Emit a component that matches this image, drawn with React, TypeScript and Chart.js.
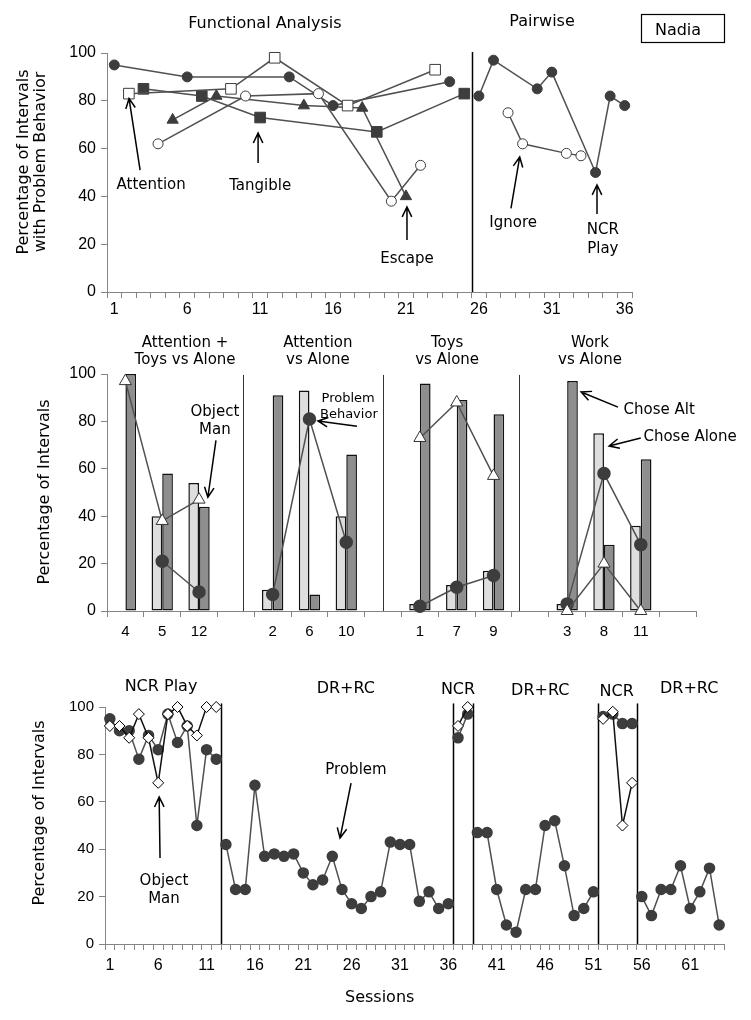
import React, { useEffect, useRef } from 'react';
import { Chart, registerables } from 'chart.js';
Chart.register(...registerables);

const TICK_FONT = "'Liberation Sans', Arial, sans-serif";
const TEXT_FONT = "'DejaVu Sans', Verdana, sans-serif";
const AXIS = '#858585';
const DARK = '#3d3d3d';
const LINE = '#505050';

// ---------------- Panel 1: Functional analysis + pairwise ----------------
const topSessionTicks = [1,2,3,4,5,6,7,8,9,10,11,12,13,14,15,16,17,18,19,20,21,22,23,24,25,26,27,28,29,30,31,32,33,34,35,36];
const topTickLabels = ['1', '6', '11', '16', '21', '26', '31', '36'];
const faPlaySessions = [1, 6, 13, 16, 24];
const faPlayValues = [95, 90, 90, 78, 88];
const faAttentionSessions = [2, 9, 12, 17, 23];
const faAttentionValues = [83, 85, 98, 78, 93];
const faTangibleSessions = [3, 7, 11, 19, 25];
const faTangibleValues = [85, 82, 73, 67, 83];
const faEscapeSessions = [5, 8, 14, 18, 21];
const faEscapeValues = [72, 82, 78, 77, 40];
const faIgnoreSessions = [4, 10, 15, 20, 22];
const faIgnoreValues = [62, 82, 83, 38, 53];
const pwPlaySessions = [26, 27, 30, 31, 34, 35, 36];
const pwPlayValues = [82, 97, 85, 92, 50, 82, 78];
const pwIgnoreSessions = [28, 29, 32, 33];
const pwIgnoreValues = [75, 62, 58, 57];
const topPhaseLines = [25.5];

// ---------------- Panel 2: choice assessment ----------------
const pairLabels = ['4', '5', '12', '', '2', '6', '10', '', '1', '7', '9', '', '3', '8', '11', ''];
const choseAloneValues = [0, 40, 54, null, 9, 93, 40, null, 3, 11, 17, null, 3, 75, 36, null];
const choseAltValues = [100, 58, 44, null, 91, 7, 66, null, 96, 89, 83, null, 97, 28, 64, null];
const pairProblemValues = [null, 21, 8, null, 7, 81, 29, null, 2, 10, 15, null, 3, 58, 28, null];
const pairObjectManValues = [97, 38, 47, null, null, null, null, null, 73, 88, 57, null, 0, 20, 0, null];
const pairDividers = [3.19, 6.99, 10.69];

// ---------------- Panel 3: treatment ----------------
const bottomSessionTicks = [1,2,3,4,5,6,7,8,9,10,11,12,13,14,15,16,17,18,19,20,21,22,23,24,25,26,27,28,29,30,31,32,33,34,35,36,37,38,39,40,41,42,43,44,45,46,47,48,49,50,51,52,53,54,55,56,57,58,59,60,61,62,63,64];
const bottomTickLabels = ['1', '6', '11', '16', '21', '26', '31', '36', '41', '46', '51', '56', '61'];
const problemValues = [
  95, 90, 90, 78, 88, 82, 97, 85, 92, 50, 82, 78,
  42, 23, 23, 67, 37, 38, 37, 38, 30, 25, 27, 37, 23, 17, 15, 20, 22, 43, 42, 42, 18, 22, 15, 17,
  87, 97,
  47, 47, 23, 8, 5, 23, 23, 50, 52, 33, 12, 15, 22,
  96, 97, 93, 93,
  20, 12, 23, 23, 33, 15, 22, 32, 8,
];
const objectManSessions = [1, 2, 3, 4, 5, 6, 7, 8, 9, 10, 11, 12, 37, 38, 52, 53, 54, 55];
const objectManValues = [92, 92, 87, 97, 87, 68, 97, 100, 92, 88, 100, 100, 92, 100, 95, 98, 50, 68];
const bottomPhaseLines = [12.5, 36.5, 38.5, 51.5, 55.5];

// ---------------- annotation plugin ----------------
type VLine = { x: number; y1: number; y2: number; color: string; width: number };
type Txt = { x: number; y: number; text: string; size: number };
type Arr = { x1: number; y1: number; x2: number; y2: number };
type RotTxt = { px: number; py: number; text: string; size: number };
type PxTxt = { px: number; py: number; text: string; size: number };
type Box = { px: number; py: number; w: number; h: number };
type Annot = { vlines?: VLine[]; texts?: Txt[]; arrows?: Arr[]; rot?: RotTxt[]; pxTexts?: PxTxt[]; boxes?: Box[] };

function annotPlugin(a: Annot) {
  return {
    id: 'annot',
    beforeDatasetsDraw(chart: any) {
      const { ctx } = chart;
      const xs = chart.scales.x;
      const ys = chart.scales.y;
      (a.vlines || []).forEach((l) => {
        ctx.save();
        ctx.strokeStyle = l.color;
        ctx.lineWidth = l.width;
        const x = Math.round(xs.getPixelForValue(l.x)) + 0.5;
        ctx.beginPath();
        ctx.moveTo(x, ys.getPixelForValue(l.y1));
        ctx.lineTo(x, ys.getPixelForValue(l.y2));
        ctx.stroke();
        ctx.restore();
      });
    },
    afterDraw(chart: any) {
      const { ctx } = chart;
      const xs = chart.scales.x;
      const ys = chart.scales.y;
      ctx.save();
      ctx.fillStyle = '#000';
      ctx.strokeStyle = '#000';
      ctx.textAlign = 'center';
      ctx.textBaseline = 'middle';
      (a.texts || []).forEach((t) => {
        ctx.font = `${t.size}px ${TEXT_FONT}`;
        ctx.fillText(t.text, xs.getPixelForValue(t.x), ys.getPixelForValue(t.y));
      });
      (a.pxTexts || []).forEach((t) => {
        ctx.font = `${t.size}px ${TEXT_FONT}`;
        ctx.fillText(t.text, t.px, t.py);
      });
      (a.arrows || []).forEach((r) => {
        const x1 = xs.getPixelForValue(r.x1);
        const y1 = ys.getPixelForValue(r.y1);
        const x2 = xs.getPixelForValue(r.x2);
        const y2 = ys.getPixelForValue(r.y2);
        const ang = Math.atan2(y2 - y1, x2 - x1);
        const hl = 11;
        const ha = Math.PI / 7;
        ctx.lineWidth = 1.5;
        ctx.beginPath();
        ctx.moveTo(x1, y1);
        ctx.lineTo(x2, y2);
        ctx.moveTo(x2 - hl * Math.cos(ang - ha), y2 - hl * Math.sin(ang - ha));
        ctx.lineTo(x2, y2);
        ctx.lineTo(x2 - hl * Math.cos(ang + ha), y2 - hl * Math.sin(ang + ha));
        ctx.stroke();
      });
      (a.rot || []).forEach((t) => {
        ctx.save();
        ctx.translate(t.px, t.py);
        ctx.rotate(-Math.PI / 2);
        ctx.font = `${t.size}px ${TEXT_FONT}`;
        ctx.fillText(t.text, 0, 0);
        ctx.restore();
      });
      (a.boxes || []).forEach((b) => {
        ctx.lineWidth = 1.2;
        ctx.strokeRect(b.px + 0.5, b.py + 0.5, b.w, b.h);
      });
      ctx.restore();
    },
  };
}

function pts(sessions: number[], values: number[]) {
  return sessions.map((s, i) => ({ x: s, y: values[i] }));
}

const filledCircle = { pointStyle: 'circle', pointRadius: 5, pointBackgroundColor: DARK, pointBorderColor: DARK, pointBorderWidth: 1 };
const openCircle = { pointStyle: 'circle', pointRadius: 5, pointBackgroundColor: '#fff', pointBorderColor: DARK, pointBorderWidth: 1 };
const openSquare = { pointStyle: 'rect', pointRadius: 7.5, pointBackgroundColor: '#fff', pointBorderColor: DARK, pointBorderWidth: 1 };
const filledSquare = { pointStyle: 'rect', pointRadius: 7.5, pointBackgroundColor: DARK, pointBorderColor: DARK, pointBorderWidth: 1 };
const filledTriangle = { pointStyle: 'triangle', pointRadius: 6.5, pointBackgroundColor: DARK, pointBorderColor: DARK, pointBorderWidth: 1 };

function lineDs(data: any, style: any, color = LINE) {
  return { type: 'line', data, borderColor: color, borderWidth: 1.5, tension: 0, clip: false, fill: false, ...style };
}

function yAxis(width: number, size: number) {
  return {
    min: 0,
    max: 100,
    ticks: { stepSize: 20, font: { family: TICK_FONT, size }, color: '#000', padding: 5 },
    grid: { drawOnChartArea: false, tickLength: 6, color: AXIS },
    border: { color: AXIS, width: 1 },
    afterFit: (s: any) => { s.width = width; },
  };
}

function sessionAxis(min: number, max: number, ticks: number[], labels: string[], height: number, size: number, pad: number) {
  return {
    type: 'linear',
    min,
    max,
    afterBuildTicks: (s: any) => { s.ticks = ticks.map((v) => ({ value: v })); },
    ticks: {
      autoSkip: false,
      maxRotation: 0,
      font: { family: TICK_FONT, size },
      color: '#000',
      padding: pad,
      callback: (v: any) => (labels.includes(String(v)) ? String(v) : ''),
    },
    grid: { offset: true, drawOnChartArea: false, tickLength: 6, color: AXIS },
    border: { color: AXIS, width: 1 },
    afterFit: (s: any) => { s.height = height; },
  };
}

function topConfig(): any {
  return {
    type: 'line',
    data: {
      datasets: [
        lineDs(pts(faAttentionSessions, faAttentionValues), openSquare),
        lineDs(pts(faIgnoreSessions, faIgnoreValues), openCircle),
        lineDs(pts(faPlaySessions, faPlayValues), filledCircle),
        lineDs(pts(faTangibleSessions, faTangibleValues), filledSquare),
        lineDs(pts(faEscapeSessions, faEscapeValues), filledTriangle),
        lineDs(pts(pwIgnoreSessions, pwIgnoreValues), openCircle),
        lineDs(pts(pwPlaySessions, pwPlayValues), filledCircle),
      ],
    },
    options: {
      responsive: false,
      animation: false,
      devicePixelRatio: 1,
      layout: { padding: { top: 53, right: 119, left: 0, bottom: 0 } },
      plugins: { legend: { display: false }, tooltip: { enabled: false } },
      scales: {
        x: sessionAxis(0.5, 36.5, topSessionTicks, topTickLabels, 38, 16, 2),
        y: yAxis(107, 16),
      },
    },
    plugins: [
      annotPlugin({
        vlines: topPhaseLines.map((x) => ({ x, y1: 100.4, y2: 0, color: '#000', width: 1.5 })),
        texts: [
          { x: 11.33, y: 112.1, text: 'Functional Analysis', size: 16 },
          { x: 30.33, y: 113, text: 'Pairwise', size: 16 },
          { x: 3.53, y: 44.8, text: 'Attention', size: 15 },
          { x: 11.0, y: 44.4, text: 'Tangible', size: 15 },
          { x: 21.07, y: 13.8, text: 'Escape', size: 15 },
          { x: 28.35, y: 28.9, text: 'Ignore', size: 15 },
          { x: 34.5, y: 25.9, text: 'NCR', size: 15 },
          { x: 34.5, y: 18.0, text: 'Play', size: 15 },
        ],
        pxTexts: [{ px: 678, py: 31, text: 'Nadia', size: 16 }],
        arrows: [
          { x1: 2.77, y1: 51, x2: 2.01, y2: 81 },
          { x1: 10.86, y1: 54, x2: 10.86, y2: 66.5 },
          { x1: 21.07, y1: 21.8, x2: 21.07, y2: 35.6 },
          { x1: 28.2, y1: 35, x2: 28.8, y2: 56.5 },
          { x1: 34.1, y1: 32.6, x2: 34.1, y2: 44.8 },
        ],
        rot: [
          { px: 24, py: 162, text: 'Percentage of Intervals', size: 16 },
          { px: 41, py: 162, text: 'with Problem Behavior', size: 16 },
        ],
        boxes: [{ px: 641, py: 14, w: 83, h: 28 }],
      }),
    ],
  };
}

function middleConfig(): any {
  return {
    type: 'bar',
    data: {
      labels: pairLabels,
      datasets: [
        { type: 'line', data: pairObjectManValues, order: 0, borderColor: LINE, borderWidth: 1.5, tension: 0, clip: false, spanGaps: false,
          pointStyle: 'triangle', pointRadius: 7, pointBackgroundColor: '#fff', pointBorderColor: '#333', pointBorderWidth: 1 },
        { type: 'line', data: pairProblemValues, order: 0, borderColor: LINE, borderWidth: 1.5, tension: 0, clip: false, spanGaps: false,
          pointStyle: 'circle', pointRadius: 6, pointBackgroundColor: DARK, pointBorderColor: DARK },
        { type: 'bar', data: choseAloneValues, order: 1, backgroundColor: '#dedede', borderColor: '#111', borderWidth: 1.5, borderSkipped: false,
          categoryPercentage: 0.58, barPercentage: 1.0 },
        { type: 'bar', data: choseAltValues, order: 1, backgroundColor: '#8e8e8e', borderColor: '#111', borderWidth: 1.5, borderSkipped: false,
          categoryPercentage: 0.58, barPercentage: 1.0 },
      ],
    },
    options: {
      responsive: false,
      animation: false,
      devicePixelRatio: 1,
      layout: { padding: { top: 44, right: 55, left: 0, bottom: 0 } },
      plugins: { legend: { display: false }, tooltip: { enabled: false } },
      scales: {
        x: {
          type: 'category',
          offset: true,
          ticks: { autoSkip: false, maxRotation: 0, font: { family: TICK_FONT, size: 15 }, color: '#000', padding: 6 },
          grid: { offset: true, drawOnChartArea: false, tickLength: 6, color: AXIS },
          border: { color: AXIS, width: 1 },
          afterFit: (s: any) => { s.height = 39; },
        },
        y: yAxis(107, 16),
      },
    },
    plugins: [
      annotPlugin({
        vlines: pairDividers.map((x) => ({ x, y1: 99.6, y2: 0, color: '#333', width: 1 })),
        texts: [
          { x: 1.62, y: 113.1, text: 'Attention +', size: 15 },
          { x: 1.62, y: 105.9, text: 'Toys vs Alone', size: 15 },
          { x: 5.23, y: 113.1, text: 'Attention', size: 15 },
          { x: 5.23, y: 105.9, text: 'vs Alone', size: 15 },
          { x: 8.74, y: 113.1, text: 'Toys', size: 15 },
          { x: 8.74, y: 105.9, text: 'vs Alone', size: 15 },
          { x: 12.62, y: 113.1, text: 'Work', size: 15 },
          { x: 12.62, y: 105.9, text: 'vs Alone', size: 15 },
          { x: 2.43, y: 84, text: 'Object', size: 15 },
          { x: 2.43, y: 76.4, text: 'Man', size: 15 },
          { x: 6.05, y: 89.5, text: 'Problem', size: 13 },
          { x: 6.07, y: 82.7, text: 'Behavior', size: 13 },
          { x: 14.5, y: 84.8, text: 'Chose Alt', size: 15 },
          { x: 15.34, y: 73.4, text: 'Chose Alone', size: 15 },
        ],
        arrows: [
          { x1: 2.46, y1: 72, x2: 2.24, y2: 48 },
          { x1: 6.29, y1: 78, x2: 5.23, y2: 80.2 },
          { x1: 13.38, y1: 86, x2: 12.38, y2: 92.4 },
          { x1: 14.0, y1: 73, x2: 13.14, y2: 69.6 },
        ],
        rot: [{ px: 45, py: 162, text: 'Percentage of Intervals', size: 16 }],
      }),
    ],
  };
}

function bottomConfig(): any {
  const bounds = [0.5, ...bottomPhaseLines, 64.5];
  const omSets: any[] = [];
  const probSets: any[] = [];
  for (let p = 0; p < bounds.length - 1; p++) {
    const lo = bounds[p];
    const hi = bounds[p + 1];
    const om = objectManSessions
      .map((s, i) => ({ x: s, y: objectManValues[i] }))
      .filter((d) => d.x > lo && d.x < hi);
    if (om.length) {
      omSets.push(lineDs(om, { pointStyle: 'rectRot', pointRadius: 5.5, pointBackgroundColor: '#fff', pointBorderColor: '#000', pointBorderWidth: 1 }, '#111'));
    }
    const pr = problemValues
      .map((v, i) => ({ x: i + 1, y: v }))
      .filter((d) => d.x > lo && d.x < hi);
    probSets.push(lineDs(pr, { pointStyle: 'circle', pointRadius: 5, pointBackgroundColor: DARK, pointBorderColor: DARK }));
  }
  return {
    type: 'line',
    data: { datasets: [...omSets, ...probSets] },
    options: {
      responsive: false,
      animation: false,
      devicePixelRatio: 1,
      layout: { padding: { top: 57, right: 27, left: 0, bottom: 0 } },
      plugins: { legend: { display: false }, tooltip: { enabled: false } },
      scales: {
        x: sessionAxis(0.5, 64.5, bottomSessionTicks, bottomTickLabels, 76, 16, 6),
        y: yAxis(105, 15),
      },
    },
    plugins: [
      annotPlugin({
        vlines: bottomPhaseLines.map((x) => ({ x, y1: 101.5, y2: 0, color: '#000', width: 1.5 })),
        texts: [
          { x: 6.29, y: 108.4, text: 'NCR Play', size: 16 },
          { x: 25.4, y: 107.6, text: 'DR+RC', size: 16 },
          { x: 37.0, y: 107.2, text: 'NCR', size: 16 },
          { x: 45.5, y: 106.8, text: 'DR+RC', size: 16 },
          { x: 53.4, y: 106.3, text: 'NCR', size: 16 },
          { x: 60.9, y: 107.6, text: 'DR+RC', size: 16 },
          { x: 6.6, y: 26.6, text: 'Object', size: 15 },
          { x: 6.6, y: 19.0, text: 'Man', size: 15 },
          { x: 26.45, y: 73.4, text: 'Problem', size: 15 },
          { x: 28.9, y: -22.8, text: 'Sessions', size: 16 },
        ],
        arrows: [
          { x1: 6.19, y1: 36.3, x2: 6.1, y2: 62 },
          { x1: 25.94, y1: 67.9, x2: 24.8, y2: 44.7 },
        ],
        rot: [{ px: 40, py: 163, text: 'Percentage of Intervals', size: 16 }],
      }),
    ],
  };
}

function ChartCanvas({ top, height, build }: { top: number; height: number; build: () => any }) {
  const ref = useRef<HTMLCanvasElement>(null);
  useEffect(() => {
    const chart = new Chart(ref.current as HTMLCanvasElement, build());
    return () => chart.destroy();
  }, []);
  return (
    <canvas
      ref={ref}
      width={751}
      height={height}
      style={{ position: 'absolute', left: 0, top, width: 751, height, display: 'block' }}
    />
  );
}

export default function App() {
  return (
    <div style={{ position: 'absolute', left: 0, top: 0, width: 751, height: 1020, background: '#fff', overflow: 'hidden' }}>
      <ChartCanvas top={0} height={330} build={topConfig} />
      <ChartCanvas top={330} height={320} build={middleConfig} />
      <ChartCanvas top={650} height={370} build={bottomConfig} />
    </div>
  );
}
